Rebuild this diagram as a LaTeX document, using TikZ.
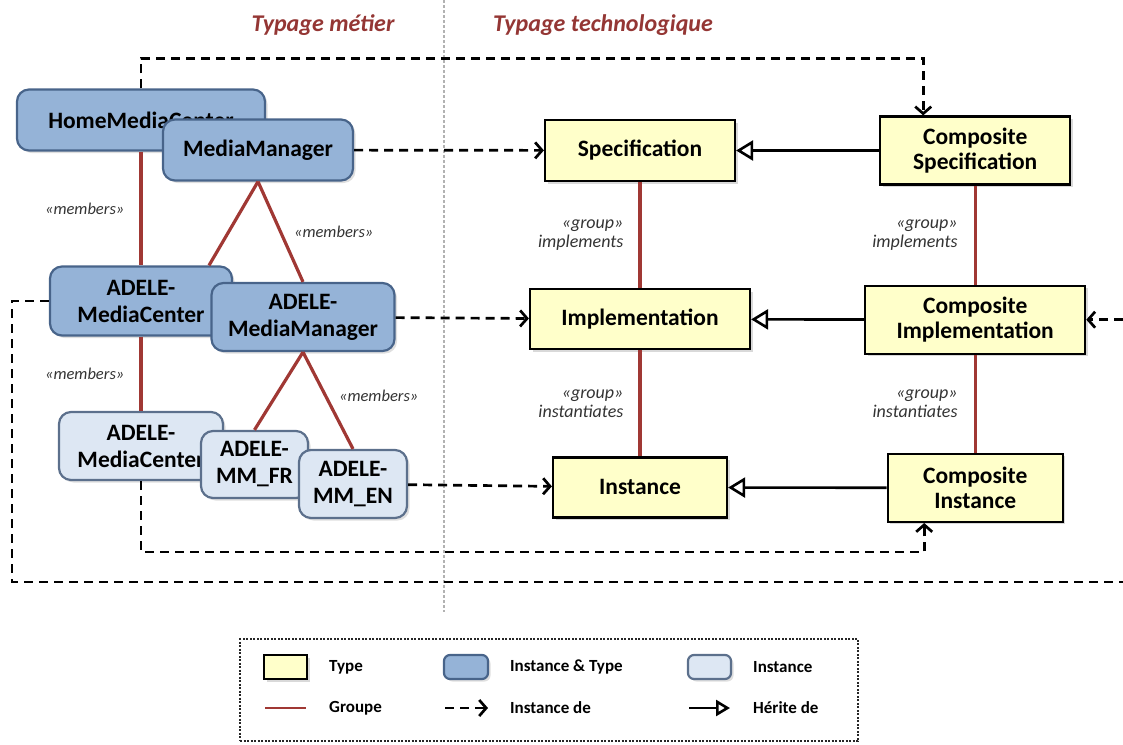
\documentclass[tikz,border=0pt]{standalone}
\usepackage{fontspec}
\setmainfont{Carlito}
\usetikzlibrary{arrows.meta,positioning,shadows}
\definecolor{typefill}{RGB}{255,255,202}
\definecolor{itfill}{RGB}{149,179,215}
\definecolor{itdraw}{RGB}{72,100,138}
\definecolor{instfill}{RGB}{221,231,243}
\definecolor{instdraw}{RGB}{92,112,140}
\definecolor{grpred}{RGB}{160,56,52}
\definecolor{titlered}{RGB}{148,54,52}
\tikzset{
  typebox/.style={
    rectangle,
    draw=black,
    line width=2.2pt,
    fill=typefill,
    align=center,
    inner sep=0pt,
    font=\fontsize{23.5}{25}\selectfont\bfseries,
    drop shadow={shadow xshift=2.5pt,shadow yshift=-2.5pt,opacity=.3}
  },
  itbox/.style={
    rectangle,
    rounded corners=12pt,
    draw=itdraw,
    line width=2.2pt,
    fill=itfill,
    align=center,
    inner sep=0pt,
    font=\fontsize{23.5}{27}\selectfont\bfseries,
    drop shadow={shadow xshift=2.5pt,shadow yshift=-2.5pt,opacity=.25}
  },
  instbox/.style={
    itbox,
    draw=instdraw,
    fill=instfill
  },
  grp/.style={
    draw=grpred,
    line width=3.2pt
  },
  instof/.style={
    -{Straight Barb[length=7pt,width=16pt]},
    dash pattern=on 9pt off 6pt,
    line width=2.7pt,
    draw=black
  },
  inherit/.style={
    -{Triangle[length=17pt,width=20pt,fill=white]},
    line width=2.6pt,
    draw=black
  },
  lbl/.style={
    font=\fontsize{16.5}{18}\selectfont\itshape,
    text=black!80,
    inner sep=0pt,
    align=right
  },
  grplbl/.style={
    lbl,
    font=\fontsize{18}{19}\selectfont\itshape
  },
  heading/.style={
    font=\fontsize{24}{28}\selectfont\bfseries\itshape,
    text=titlered
  },
  legtext/.style={
    anchor=west,
    inner sep=0pt,
    font=\fontsize{17}{20}\selectfont\bfseries
  },
  legframe/.style={
    rectangle,
    draw=black!85,
    line width=1.2pt,
    dash pattern=on 2pt off 1.5pt
  }
}

\begin{document}
\begin{tikzpicture}[x=1pt,y=-1pt]
  \path[use as bounding box] (0,0) rectangle (1123,744);
  \clip (0,0) rectangle (1123,744);

  \draw[gray!60, line width=1.4pt, dash pattern=on 3pt off 2pt] (444,0) -- (444,612);
  \node[heading] (metier) at (323,25) {Typage métier};
  \node[heading] (techno) at (603,25) {Typage technologique};

  \node[itbox, minimum width=248, minimum height=61] (hmc) at (141,120) {HomeMediaCenter};
  \node[itbox, minimum width=190, minimum height=61] (mm) at (258,150) {MediaManager};
  \node[itbox, minimum width=182, minimum height=69] (amc) at (141,301) {ADELE-\\MediaCenter};
  \node[itbox, minimum width=183, minimum height=68] (amm) at (303,317) {ADELE-\\MediaManager};
  \node[instbox, minimum width=164, minimum height=68] (imc) at (141,446) {ADELE-\\MediaCenter};
  \node[instbox, minimum width=107, minimum height=67] (mmfr) at (254.5,464.5) {ADELE-\\MM\_FR};
  \node[instbox, minimum width=108, minimum height=68] (mmen) at (353,484) {ADELE-\\MM\_EN};

  \node[typebox, minimum width=190, minimum height=61] (spec) at (640,150.5) {Specification};
  \node[typebox, minimum width=220, minimum height=60, below=106pt of spec] (impl) {Implementation};
  \node[typebox, minimum width=174, minimum height=60, below=106pt of impl] (inst) {Instance};
  \node[typebox, minimum width=190, minimum height=68, right=143pt of spec] (cspec) {Composite\\Specification};
  \node[typebox, minimum width=220, minimum height=68, below=99pt of cspec] (cimpl) {Composite\\Implementation};
  \node[typebox, minimum width=175, minimum height=68, below=98pt of cimpl] (cinst) {Composite\\Instance};

  \draw[grp] (hmc) -- node[lbl, left=15pt] {«members»} (amc);
  \draw[grp] (mm.south) -- ([xshift=68pt]amc.north);
  \draw[grp] (mm.south) -- node[lbl, right=12pt] {«members»} (amm.north);
  \draw[grp] (amc) -- node[lbl, left=15pt] {«members»} (imc);
  \draw[grp] (amm.south) -- (mmfr.north);
  \draw[grp] (amm.south) -- node[lbl, pos=.45, right=12pt] {«members»} (mmen.north);

  \draw[grp] (spec) -- node[grplbl, left=15pt] {«group»\\implements} (impl);
  \draw[grp] (impl) -- node[grplbl, left=15pt] {«group»\\instantiates} (inst);
  \draw[grp] (cspec) -- node[grplbl, left=16pt] {«group»\\implements} (cimpl);
  \draw[grp] (cimpl) -- node[grplbl, left=16pt] {«group»\\instantiates} (cinst);

  \draw[inherit] (cspec) -- (spec);
  \draw[inherit] (cimpl) -- (impl);
  \draw[inherit] (cinst) -- (inst);

  \draw[instof] (mm) -- (spec);
  \draw[instof] (amm) -- (impl);
  \draw[instof] (mmen) -- (inst);

  \coordinate (loopL) at (12,582);
  \coordinate (loopR) at (1140,582);
  \draw[instof] (hmc.north) -- ++(0,-30) -| ([xshift=-52pt]cspec.north);
  \draw[instof] (imc.south) -- ++(0,71) -| ([xshift=-51pt]cinst.south);
  \draw[instof] (amc.west) -| (loopL) -- (loopR) |- (cimpl.east);

  \node[legframe, minimum width=618, minimum height=102] (legend) at (549,690) {};
  \node[typebox, minimum width=43, minimum height=24] (legtype) at (285.5,667) {};
  \node[legtext] (legtypetxt) at (329,667) {Type};
  \node[itbox, rounded corners=6pt, minimum width=44, minimum height=24] (legit) at (466,667) {};
  \node[legtext] (legittxt) at (510,667) {Instance \& Type};
  \node[instbox, rounded corners=6pt, minimum width=43, minimum height=24] (leginst) at (709.5,667) {};
  \node[legtext] (leginsttxt) at (753,667) {Instance};
  \coordinate (grpA) at (265,708);
  \coordinate (grpB) at (306,708);
  \coordinate (insA) at (445,708);
  \coordinate (insB) at (488,708);
  \coordinate (inhA) at (689,708);
  \coordinate (inhB) at (730,708);
  \draw[grp, line width=2.4pt] (grpA) -- (grpB);
  \draw[instof] (insA) -- (insB);
  \draw[inherit, -{Triangle[length=14pt,width=16pt,fill=white]}] (inhA) -- (inhB);
  \node[legtext] (leggrptxt) at (329,708) {Groupe};
  \node[legtext] (leginstoftxt) at (510,708) {Instance de};
  \node[legtext] (leginhtxt) at (753,708) {Hérite de};
\end{tikzpicture}
\end{document}
